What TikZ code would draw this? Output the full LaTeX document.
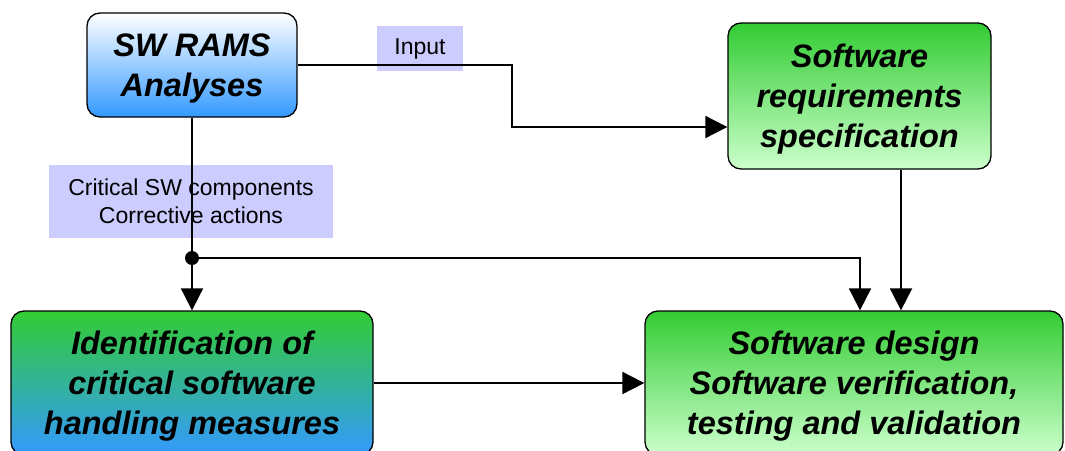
\documentclass[tikz,border=0pt]{standalone}
\usepackage{fontspec}
\setmainfont{Liberation Sans}
\usepackage{xcolor}
\usepackage{tikz}
\usetikzlibrary{positioning,arrows.meta}
\definecolor{BoxGreen}{HTML}{33CC33}
\definecolor{BoxBlue}{HTML}{3399FF}
\definecolor{PaleGreen}{HTML}{CCFFCC}
\definecolor{Lavender}{HTML}{CCCCFF}
\newcommand{\boxfont}{\fontsize{32.5}{40}\selectfont\bfseries\itshape}
\newcommand{\labfont}{\fontsize{23}{27.5}\selectfont}
\newcommand{\bstrut}{\rule[-6.9pt]{0pt}{36.3pt}}

\begin{document}
\begin{tikzpicture}[x=1pt, y=-1pt, every node/.style={align=center},
    block/.style={draw, line width=1.3pt, rounded corners=13pt, inner sep=0pt, font=\boxfont},
    bluebox/.style={block, top color=white, bottom color=BoxBlue},
    greenbox/.style={block, top color=BoxGreen, bottom color=PaleGreen},
    mixbox/.style={block, top color=BoxGreen, bottom color=BoxBlue},
    tag/.style={fill=Lavender, inner sep=0pt, font=\labfont},
    conn/.style={line width=1.9pt, -{Triangle[length=22pt, width=22pt]}}]
      \clip (0,0) rectangle (1065,450);
      % Nodes
      \node[bluebox, minimum width=210pt, minimum height=104pt] (rams) at (192,65) {\bstrut SW RAMS\\Analyses\bstrut};
      \node[greenbox, minimum width=263pt, minimum height=146pt] (req) at (859.5,96) {\bstrut Software\\requirements\\specification\bstrut};
      \node[mixbox, minimum width=362pt, minimum height=144pt] (ident) at (192,383) {\bstrut Identification of\\critical software\\handling measures\bstrut};
      \node[greenbox, minimum width=418pt, minimum height=144pt] (design) at (854,383) {\bstrut Software design\\Software verification,\\testing and validation\bstrut};
      % Labels
      \node[tag, minimum width=86pt, minimum height=45pt] (input) at (420,48.5) {Input};
      \node[tag, minimum width=284pt, minimum height=73pt] (critical) at (191,201.5) {Critical SW components\\Corrective actions};
      \node[circle, fill, inner sep=0pt, minimum size=14pt] (split) at (192,258) {};
      \coordinate (bend) at (512,127);
      % Arrows
      \draw[conn] (rams.east) -| (bend) -- (bend -| req.west);
      \draw[conn] (rams.south) -- (ident.north);
      \draw[conn] (split) -| ([xshift=6pt]design.north);
      \draw[conn] ([xshift=41.5pt]req.south) -- ([xshift=41.5pt]req.south |- design.north);
      \draw[conn] (ident.east) -- (design.west);
    \end{tikzpicture}
\end{document}
